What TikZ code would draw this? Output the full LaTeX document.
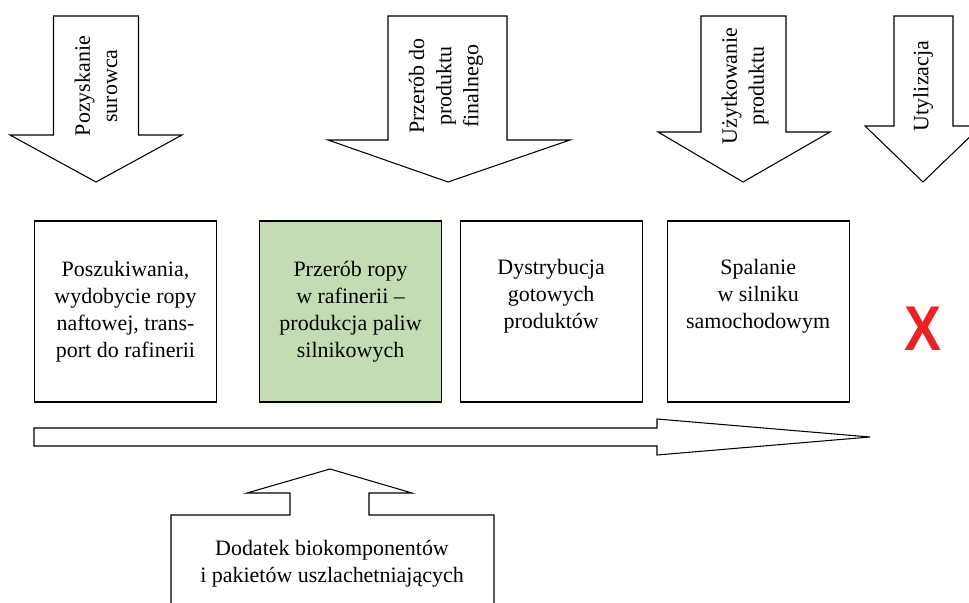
\documentclass[tikz,border=0pt]{standalone}
\usepackage{fontspec}
\setmainfont{Liberation Serif}
\newfontfamily\crossfont{Liberation Sans}
\usepackage{xcolor}
\usepackage{tikz}
\usetikzlibrary{calc,positioning}
\definecolor{refineryGreen}{RGB}{195,220,180}
\definecolor{crossRed}{RGB}{237,32,36}

\begin{document}
\begin{tikzpicture}[
	shape line/.style={draw=black, line width=0.6pt, line join=miter},
	stage box/.style={shape line, rectangle, minimum width=3.64cm, minimum height=3.62cm, inner sep=0pt},
	stage text/.style={align=center, font=\fontsize{12.5}{15.4}\selectfont},
	arrow text/.style={stage text, rotate=90}
]
	\newcommand{\arrowTop}{11.72}
	\newcommand{\arrowTip}{8.40}
	\newcommand{\textLevel}{10.32}
	\newcommand{\textLift}{0.31}

	\useasboundingbox (0,0) rectangle (19.38,12.04);

	% stage arrows
	\draw[shape line] (1.07,\arrowTop) -- (2.77,\arrowTop) -- (2.77,9.34) -- (3.64,9.34) -- (1.92,\arrowTip) -- (0.20,9.34) -- (1.07,9.34) -- cycle;
	\draw[shape line] (7.76,\arrowTop) -- (10.14,\arrowTop) -- (10.14,9.24) -- (11.40,9.24) -- (8.96,\arrowTip) -- (6.56,9.24) -- (7.76,9.24) -- cycle;
	\draw[shape line] (14.02,\arrowTop) -- (15.72,\arrowTop) -- (15.72,9.40) -- (16.60,9.40) -- (14.86,\arrowTip) -- (13.16,9.40) -- (14.02,9.40) -- cycle;
	\draw[shape line] (17.88,\arrowTop) -- (19.06,\arrowTop) -- (19.06,9.52) -- (19.62,9.52) -- (18.46,\arrowTip) -- (17.30,9.52) -- (17.88,9.52) -- cycle;

	\node[arrow text] (raw_text) at (1.92,\textLevel) {Pozyskanie\\surowca};
	\node[arrow text] (processing_text) at (8.92,\textLevel) {Przerób do\\produktu\\finalnego};
	\node[arrow text] (usage_text) at (14.90,\textLevel) {Użytkowanie\\produktu};
	\node[arrow text] (disposal_text) at (18.46,\textLevel) {Utylizacja};

	% stage boxes
	\node[stage box] (exploration) at (2.51,5.81) {};
	\node[stage box, fill=refineryGreen, right=0.84cm of exploration] (refinery) {};
	\node[stage box, right=0.35cm of refinery] (distribution) {};
	\node[stage box, right=0.48cm of distribution] (combustion) {};

	\node[stage text] (exploration_text) at (exploration) {Poszukiwania,\\wydobycie ropy\\naftowej, trans-\\port do rafinerii};
	\node[stage text] (refinery_text) at (refinery) {Przerób ropy\\w rafinerii --\\produkcja paliw\\silnikowych};
	\node[stage text] (distribution_text) at ($(distribution.center)+(0,\textLift)$) {Dystrybucja\\gotowych\\produktów};
	\node[stage text] (combustion_text) at ($(combustion.center)+(0,\textLift)$) {Spalanie\\w silniku\\samochodowym};

	\node[text=crossRed, font=\crossfont\bfseries\fontsize{36}{36}\selectfont, xscale=0.88] (disposal_mark) at (18.46,5.46) {X};

	% flow arrow
	\coordinate (flow_start) at (0.68,3.30);
	\coordinate (flow_tip) at (17.40,3.30);
	\draw[shape line] ($(flow_start)+(0,0.18)$) -- (13.14,3.48) -- (13.14,3.66) -- (flow_tip) -- (13.14,2.94) -- (13.14,3.12) -- ($(flow_start)+(0,-0.18)$) -- cycle;

	% additives box with arrow up
	\coordinate (additive_tip) at (6.60,2.66);
	\draw[shape line] (3.42,-0.2) -- (3.42,1.74) -- (5.80,1.74) -- (5.80,2.18) -- (4.94,2.18) -- (additive_tip) -- (8.24,2.18) -- (7.38,2.18) -- (7.38,1.74) -- (9.88,1.74) -- (9.88,-0.2);
	\node[stage text] (additive_text) at (6.64,0.76) {Dodatek biokomponentów\\i pakietów uszlachetniających};
\end{tikzpicture}
\end{document}
